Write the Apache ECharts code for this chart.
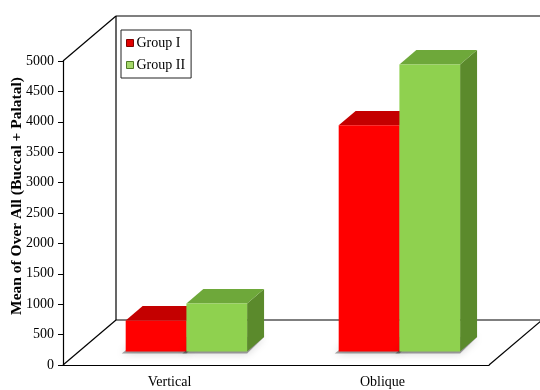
<!DOCTYPE html>
<html lang="en">
<head>
    <meta charset="UTF-8">
    <title>Mean of Over All</title>
    <script src="https://cdn.jsdelivr.net/npm/echarts@6/dist/echarts.min.js"></script>
    <style>
        html, body { margin: 0; padding: 0; background: #fff; }
        #main { width: 540px; height: 390px; }
    </style>
</head>
<body>
    <div id="main"></div>
    <script>
        // data
        var categories = ['Vertical', 'Oblique'];
        var groupI = [510, 3720];
        var groupII = [790, 4720];
        var seriesNames = ['Group I', 'Group II'];
        var yMin = 0, yMax = 5000, yStep = 500;

        // 3d look: full depth of the box and where bars sit in it
        var DX = 53, DY = -45;
        var FRONT = 0.3, DEPTH = 0.32;
        var serif = '"Liberation Serif", "Times New Roman", serif';

        // face colours [front, top, side]
        var faces = [
            ['#ff0000', '#c40000', '#b00000'],
            ['#8fd14f', '#6ea83a', '#5b8a2c']
        ];

        function barItem(params, api) {
            var s = params.seriesIndex - 1;
            var cat = api.value(0), v = api.value(1);
            var p0 = api.coord([cat, 0]);
            var p1 = api.coord([cat, v]);
            var w = api.size([1, 0])[0] * 0.285;
            var x0 = p0[0] + DX * FRONT + 1 + (s === 0 ? -w : 0);
            var x1 = x0 + w;
            var yb = p0[1] + DY * FRONT;
            var yt = p1[1] + DY * FRONT;
            var bx = DX * DEPTH, by = DY * DEPTH;
            var c = faces[s];
            return {
                type: 'group',
                children: [
                    {
                        type: 'polygon',
                        shape: { points: [[x0 - 4, yb + 2], [x1, yb + 2], [x1 + bx, yb + by], [x0 + bx, yb + by]] },
                        style: { fill: 'rgba(0,0,0,0.35)', shadowBlur: 8, shadowColor: 'rgba(0,0,0,0.5)' }
                    },
                    {
                        type: 'polygon',
                        shape: { points: [[x1, yt], [x1 + bx, yt + by], [x1 + bx, yb + by], [x1, yb]] },
                        style: { fill: c[2] }
                    },
                    {
                        type: 'polygon',
                        shape: { points: [[x0, yt], [x0 + bx, yt + by], [x1 + bx, yt + by], [x1, yt]] },
                        style: { fill: c[1] }
                    },
                    {
                        type: 'rect',
                        shape: { x: x0, y: yt, width: w, height: yb - yt },
                        style: { fill: c[0] }
                    }
                ]
            };
        }

        function frameItem(params, api) {
            var cs = params.coordSys;
            var x = cs.x, y = cs.y, w = cs.width, h = cs.height;
            var lines = [
                [[x, y], [x + DX, y + DY]],
                [[x, y + h], [x + DX, y + h + DY]],
                [[x + w, y + h], [x + w + DX, y + h + DY]],
                [[x + DX, y + DY], [x + DX, y + h + DY]],
                [[x + DX, y + DY], [x + w + DX, y + DY]],
                [[x + DX, y + h + DY], [x + w + DX, y + h + DY]]
            ];
            return {
                type: 'group',
                children: lines.map(function (l) {
                    return {
                        type: 'line',
                        shape: { x1: l[0][0], y1: l[0][1], x2: l[1][0], y2: l[1][1] },
                        style: { stroke: '#000', lineWidth: 1.2 }
                    };
                })
            };
        }

        function toPairs(arr) {
            return arr.map(function (v, i) { return [i, v]; });
        }

        var myChart = echarts.init(document.getElementById('main'));

        var option = {
            backgroundColor: '#fff',
            animation: false,
            grid: { left: 63, right: 51, top: 61, bottom: 25, containLabel: false, outerBoundsMode: 'none' },
            legend: {
                orient: 'vertical',
                left: 121,
                top: 30,
                borderColor: '#222',
                borderWidth: 1,
                padding: [6, 6, 6, 5],
                itemGap: 8,
                itemWidth: 7,
                itemHeight: 7,
                icon: 'rect',
                textStyle: { fontFamily: serif, fontSize: 14, color: '#000', padding: [0, 0, 0, -2] },
                data: [
                    { name: seriesNames[0], itemStyle: { color: '#e00000', borderColor: '#800000', borderWidth: 1 } },
                    { name: seriesNames[1], itemStyle: { color: '#a5d86a', borderColor: '#4f7a25', borderWidth: 1 } }
                ]
            },
            xAxis: {
                type: 'category',
                data: categories,
                axisLine: { lineStyle: { color: '#000', width: 1.2 } },
                axisTick: { length: 5, lineStyle: { color: '#000' } },
                axisLabel: { color: '#000', fontFamily: serif, fontSize: 14, margin: 10 }
            },
            yAxis: {
                type: 'value',
                min: yMin,
                max: yMax,
                interval: yStep,
                name: 'Mean of Over All (Buccal + Palatal)',
                nameLocation: 'middle',
                nameRotate: 90,
                nameGap: 38,
                nameMoveOverlap: false,
                nameTextStyle: { fontFamily: serif, fontSize: 15.5, fontWeight: 'bold', color: '#000', padding: [0, 0, 0, 34] },
                axisLine: { show: true, lineStyle: { color: '#000', width: 1.2 } },
                axisTick: { show: true, length: 5, lineStyle: { color: '#000' } },
                axisLabel: {
                    color: '#000', fontFamily: serif, fontSize: 14, margin: 9,
                    formatter: function (v) { return String(v); }
                },
                splitLine: { show: false }
            },
            series: [
                {
                    name: 'frame',
                    type: 'custom',
                    silent: true,
                    z: 1,
                    renderItem: frameItem,
                    data: [[0, 0]]
                },
                {
                    name: seriesNames[0],
                    type: 'custom',
                    z: 2,
                    itemStyle: { color: '#ff0000' },
                    renderItem: barItem,
                    data: toPairs(groupI)
                },
                {
                    name: seriesNames[1],
                    type: 'custom',
                    z: 3,
                    itemStyle: { color: '#8fd14f' },
                    renderItem: barItem,
                    data: toPairs(groupII)
                }
            ]
        };

        myChart.setOption(option);
    </script>
</body>
</html>
